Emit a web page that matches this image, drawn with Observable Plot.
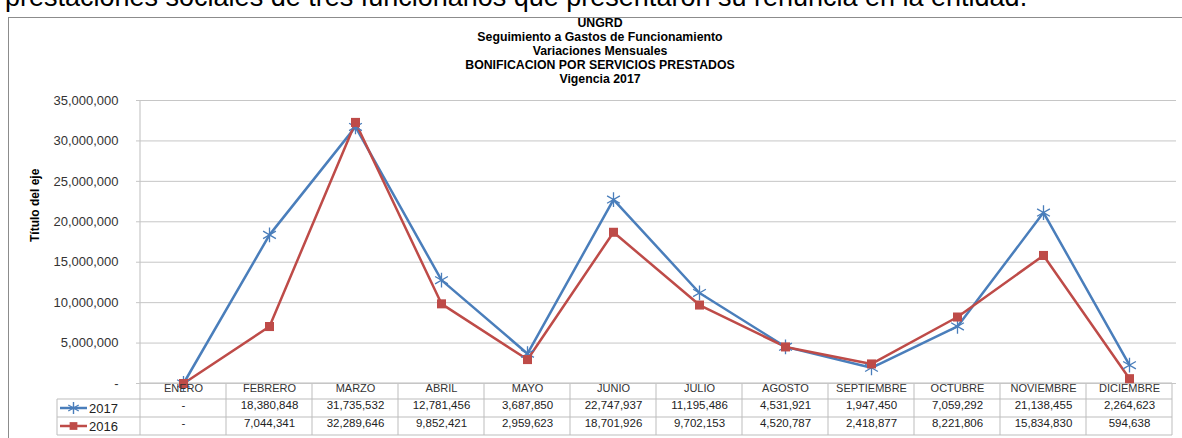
<!DOCTYPE html>
<html><head><meta charset="utf-8">
<script src="https://cdn.jsdelivr.net/npm/d3@7"></script>
<script src="https://cdn.jsdelivr.net/npm/@observablehq/plot@0.6"></script>
<style>
body{margin:0;background:#fff;}
#wrap{position:relative;width:1182px;height:438px;overflow:hidden;font-family:"Liberation Sans",Arial,sans-serif;}
#intro{position:absolute;left:5px;top:-18px;font-size:27px;white-space:nowrap;color:#000;}
#frame{position:absolute;left:8px;top:17px;width:1300px;height:600px;border-left:1px solid #8c8c8c;border-top:1px solid #8c8c8c;}
#titles{position:absolute;left:18px;width:1164px;top:16px;text-align:center;font-weight:bold;font-size:12.3px;line-height:14px;color:#000;}
#chart{position:absolute;left:0;top:90px;}
</style>
</head><body>
<div id="wrap">
  <div id="intro">prestaciones sociales de tres funcionarios que presentaron su renuncia en la entidad.</div>
  <div id="frame"></div>
  <div id="titles"></div>
  <div id="chart"></div>
</div>
<script>
const titleLines = ["UNGRD","Seguimiento a Gastos de Funcionamiento","Variaciones Mensuales","BONIFICACION POR SERVICIOS PRESTADOS","Vigencia 2017"];
const axisTitle = "Título del eje";
const months = ["ENERO","FEBRERO","MARZO","ABRIL","MAYO","JUNIO","JULIO","AGOSTO","SEPTIEMBRE","OCTUBRE","NOVIEMBRE","DICIEMBRE"];
const seriesNames = ["2017","2016"];
const values2017 = [0,18380848,31735532,12781456,3687850,22747937,11195486,4531921,1947450,7059292,21138455,2264623];
const values2016 = [0,7044341,32289646,9852421,2959623,18701926,9702153,4520787,2418877,8221806,15834830,594638];
const yTicks = [0,5000000,10000000,15000000,20000000,25000000,30000000,35000000];
const seriesColors = ["#4a7ebb","#be4b48"];
const seriesSymbols = ["asterisk","square"];

document.getElementById("titles").innerHTML = titleLines.map(t => `<div>${t}</div>`).join("");

const fmt = v => v === 0 ? "-" : d3.format(",")(v);
const seriesValues = [values2017, values2016];
const data = seriesNames.flatMap((s, k) => months.map((m, i) => ({serie: s, month: m, value: seriesValues[k][i]})));
const rowDy = [25, 43];

const plot = Plot.plot({
  width: 1182, height: 348,
  marginLeft: 136, marginRight: 6, marginTop: 10, marginBottom: 55,
  style: {fontFamily: '"Liberation Sans", Arial, sans-serif', fontSize: "11px", color: "#333", background: "transparent", overflow: "visible"},
  x: {type: "band", domain: months, padding: 0, axis: null},
  y: {domain: [0, 35000000], axis: null},
  color: {domain: seriesNames, range: seriesColors},
  symbol: {domain: seriesNames, range: seriesSymbols},
  marks: [
    Plot.ruleY(yTicks, {y: d => d, stroke: "#c6c6c6", strokeWidth: 1}),
    Plot.axisY({ticks: yTicks, tickFormat: fmt, tickSize: 0, tickPadding: 18, label: null, fontSize: 13, fill: "#333"}),
    Plot.text([axisTitle], {text: d => d, frameAnchor: "left", dx: -101, rotate: -90, fontWeight: "bold", fontSize: 12, fill: "#000"}),
    Plot.line(data, {x: "month", y: "value", z: "serie", stroke: "serie", strokeWidth: 2.5}),
    Plot.dot(data.filter(d => d.serie === "2017"), {x: "month", y: "value", symbol: "serie", stroke: "serie", r: 7, strokeWidth: 1.3}),
    Plot.dot(data.filter(d => d.serie === "2016"), {x: "month", y: "value", symbol: "serie", fill: "serie", r: 5.1}),
    Plot.text(months, {x: d => d, text: d => d, frameAnchor: "bottom", dy: 8.5, fontSize: 11, fill: "#333"}),
    ...seriesValues.map((vals, k) => Plot.text(vals, {x: (d, i) => months[i], text: fmt, frameAnchor: "bottom", dy: rowDy[k] + 0.5, fontSize: 11.5, fill: "#222"}))
  ]
});
document.getElementById("chart").appendChild(plot);

// table grid and legend, positioned with the plot's own scales
const xs = plot.scale("x"), ys = plot.scale("y"), cs = plot.scale("color");
const svg = d3.select(plot);
const g = svg.insert("g", ":first-child").attr("stroke", "#bdbdbd").attr("stroke-width", 1);
const bw = xs.bandwidth;
const x0 = xs.apply(months[0]);
const x1 = xs.apply(months[months.length - 1]) + bw;
const yBase = ys.apply(0);
const rowEdges = [yBase, yBase + 16, yBase + 34, yBase + 52];
const tableLeft = 57;
months.forEach((m, i) => {
  const x = xs.apply(m);
  g.append("line").attr("x1", x).attr("x2", x).attr("y1", i === 0 ? ys.apply(35000000) : yBase).attr("y2", rowEdges[3]);
});
g.append("line").attr("x1", x1).attr("x2", x1).attr("y1", yBase).attr("y2", rowEdges[3]);
g.append("line").attr("x1", x0).attr("x2", x1).attr("y1", yBase).attr("y2", yBase);
[1, 2, 3].forEach(r => g.append("line").attr("x1", tableLeft).attr("x2", x1).attr("y1", rowEdges[r]).attr("y2", rowEdges[r]));
g.append("line").attr("x1", tableLeft).attr("x2", tableLeft).attr("y1", rowEdges[1]).attr("y2", rowEdges[3]);

const lg = svg.append("g");
seriesNames.forEach((s, k) => {
  const cy = (rowEdges[k + 1] + rowEdges[k + 2]) / 2;
  const col = cs.apply(s);
  lg.append("line").attr("x1", 60).attr("x2", 87).attr("y1", cy).attr("y2", cy).attr("stroke", col).attr("stroke-width", 2.5);
  const sym = d3.symbol(k === 0 ? d3.symbolAsterisk : d3.symbolSquare, k === 0 ? 102 : 60)();
  lg.append("path").attr("d", sym).attr("transform", `translate(73.5,${cy})`)
    .attr("fill", k === 0 ? "none" : col).attr("stroke", k === 0 ? col : "none").attr("stroke-width", 1.4);
  lg.append("text").attr("x", 89).attr("y", cy).attr("dy", "0.36em").attr("text-anchor", "start").attr("font-size", 13).attr("fill", "#222").text(s);
});
</script>
</body></html>
